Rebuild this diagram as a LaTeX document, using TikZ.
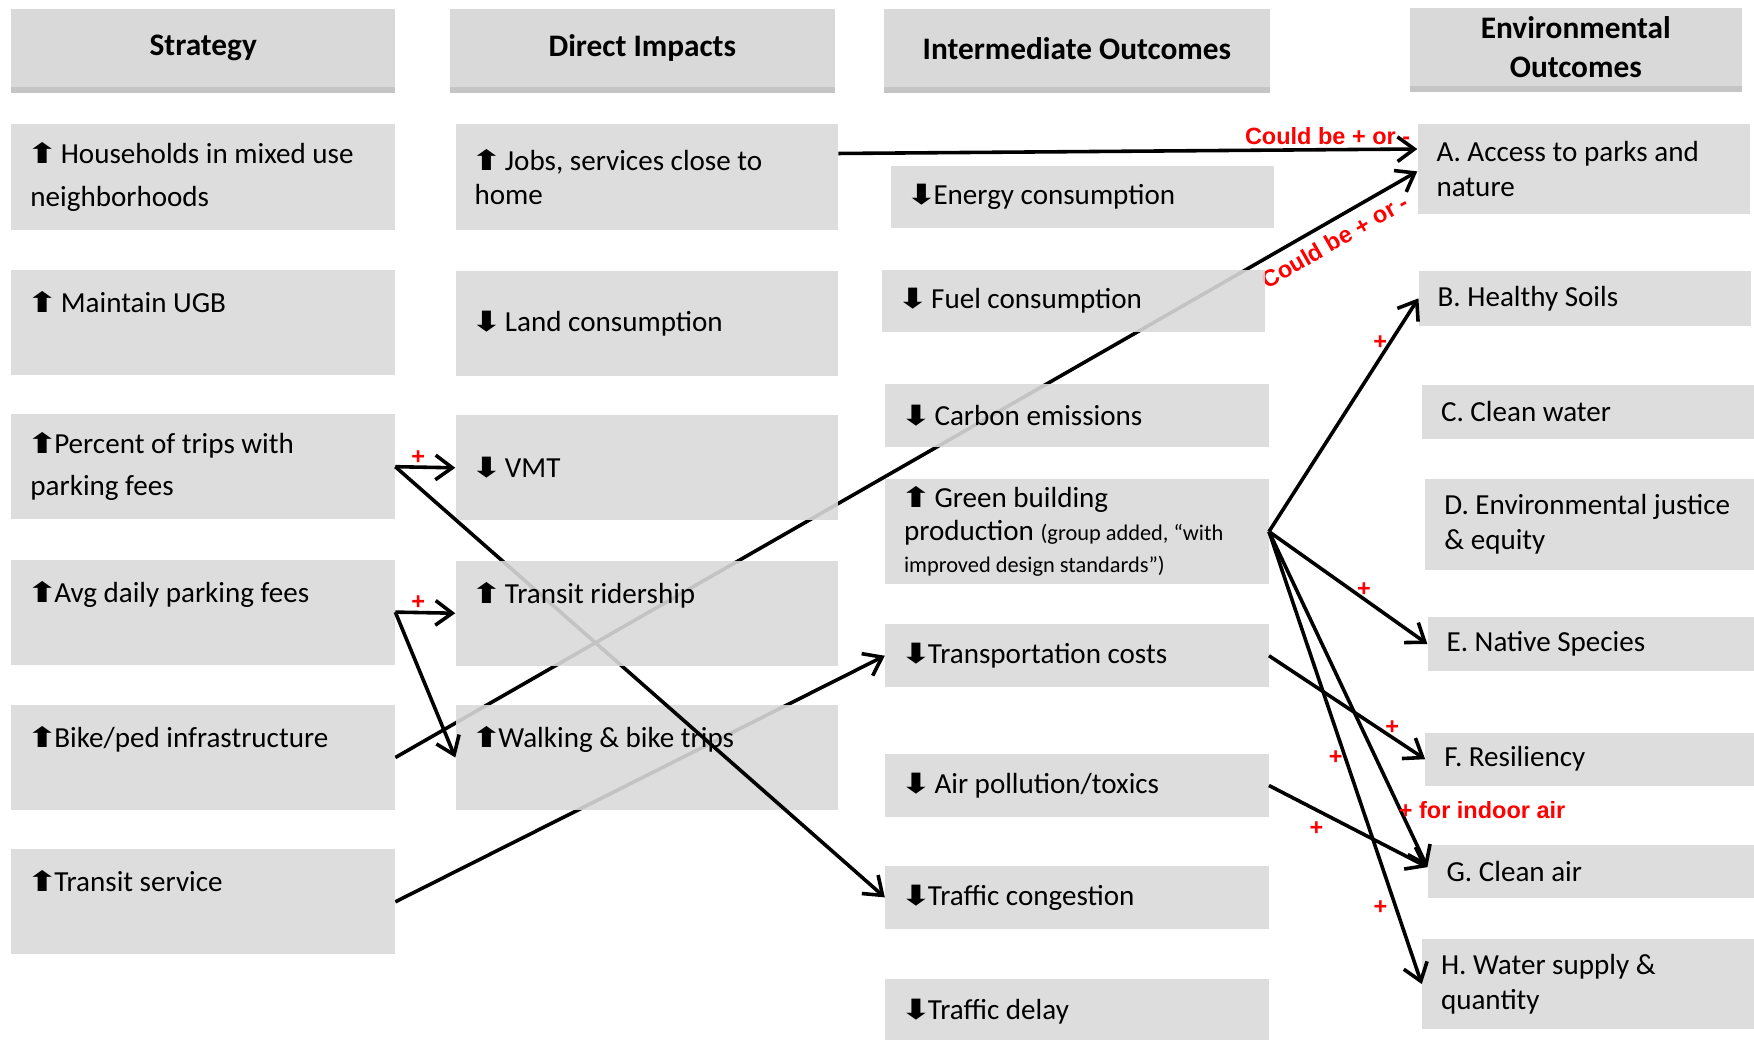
\documentclass[tikz,border=0pt]{standalone}
\usepackage{fontspec}
\setmainfont{Carlito}
\newfontfamily\labfont{Liberation Sans}
\newfontfamily\arrfont{DejaVu Sans}
\usetikzlibrary{arrows.meta,shadows}

\definecolor{boxgray}{RGB}{217,217,217}
\newcommand\uparr{{\arrfont\fontsize{25}{25}\selectfont\kern-4pt\scalebox{1.4}[1]{⬆}\kern-4pt}}
\newcommand\dnarr{{\arrfont\fontsize{25}{25}\selectfont\kern-4pt\scalebox{1.4}[1]{⬇}\kern-4pt}}

\pgfdeclarelayer{back}
\pgfsetlayers{back,main}

\begin{document}
\begin{tikzpicture}[x=1pt,y=-1pt,
  hdr/.style={anchor=north west, fill=boxgray, minimum height=70pt, inner sep=0pt,
    align=center, font=\bfseries\fontsize{28}{35}\selectfont,
    drop shadow={shadow xshift=0pt, shadow yshift=-5pt, fill=gray!90, opacity=0.5}},
  box/.style={anchor=north west, fill=boxgray, fill opacity=0.9, text opacity=1,
    inner xsep=17pt, inner ysep=0pt, align=flush left, font=\fontsize{26}{31}\selectfont},
  col1/.style={box, text width=309pt, minimum height=94pt},
  col2/.style={box, text width=308pt, minimum height=94pt},
  col3/.style={box, text width=309pt, minimum height=56pt},
  col4/.style={box, text width=263pt},
  topbox/.style={text height=38pt, text depth=56pt},
  conn/.style={line width=3.2pt, -{Straight Barb[length=15pt,width=22pt]}},
  sign/.style={text=red, inner sep=1pt, font=\labfont\bfseries\fontsize{21}{21}\selectfont}]

  \useasboundingbox (0,0) rectangle (1568,929);

  % column headers
  \node[hdr, minimum width=343pt] (hStrat) at (10,8) {Strategy};
  \node[hdr, minimum width=344pt] (hDirect) at (402,8) {Direct Impacts};
  \node[hdr, minimum width=345pt] (hInter) at (790,8) {Intermediate Outcomes};
  \node[hdr, minimum width=297pt] (hEnv) at (1260,7) {Environmental\\Outcomes};

  % strategy
  \node[col1] (strHouse) at (10,111) {\uparr\ Households in mixed use\\[7pt]neighborhoods};
  \node[col1, topbox] (strUGB) at (10,241) {\uparr\ Maintain UGB};
  \node[col1] (strPark) at (10,370) {\uparr Percent of trips with\\[7pt]parking fees};
  \node[col1, topbox] (strFees) at (10,500) {\uparr Avg daily parking fees};
  \node[col1, topbox] (strBike) at (10,630) {\uparr Bike/ped infrastructure};
  \node[col1, topbox] (strTransit) at (10,759) {\uparr Transit service};

  % direct impacts (ridership comes later)
  \node[col2] (diJobs) at (407,111) {\uparr\ Jobs, services close to\\home};
  \node[col2] (diLand) at (407,242) {\dnarr\ Land consumption};
  \node[col2] (diVMT) at (407,371) {\dnarr\ VMT};
  \node[col2, topbox] (diWalk) at (407,630) {\uparr Walking \& bike trips};

  % intermediate outcomes
  \node[col3] (ioEnergy) at (796,148) {\dnarr Energy consumption};
  \node[col3] (ioFuel) at (788,241) {\dnarr\ Fuel consumption};
  \node[col3] (ioCarbon) at (791,343) {\dnarr\ Carbon emissions};
  \node[col3, minimum height=94pt, font=\fontsize{26}{29}\selectfont] (ioGreen) at (791,428)
    {\uparr\ Green building\\production {\fontsize{20}{29}\selectfont(group added, “with}\\{\fontsize{20}{29}\selectfont improved design standards”)}};
  \node[col3] (ioCost) at (791,558) {\dnarr Transportation costs};
  \node[col3] (ioAir) at (791,674) {\dnarr\ Air pollution/toxics};
  \node[col3] (ioCongest) at (791,774) {\dnarr Traffic congestion};
  \node[col3, minimum height=58pt] (ioDelay) at (791,875) {\dnarr Traffic delay};

  % environmental outcomes
  \node[col4, minimum height=80pt] (envA) at (1267,111) {A. Access to parks and\\nature};
  \node[col4, minimum height=49pt] (envB) at (1268,242) {B. Healthy Soils};
  \node[col4, minimum height=48pt] (envC) at (1271,344) {C. Clean water};
  \node[col4, minimum height=81pt] (envD) at (1274,428) {D. Environmental justice\\\& equity};
  \node[col4, minimum height=49pt] (envE) at (1276,551) {E. Native Species};
  \node[col4, minimum height=47pt] (envF) at (1274,655) {F. Resiliency};
  \node[col4, minimum height=48pt] (envG) at (1276,755) {G. Clean air};
  \node[col4, minimum height=81pt] (envH) at (1271,839) {H. Water supply \&\\quantity};

  % runs over walking box, under ridership box
  \draw[conn] (strPark.east) -- (ioCongest.west);
  \node[col2, topbox] (diRider) at (407,501) {\uparr\ Transit ridership};

  % lines seen through the boxes
  \begin{pgfonlayer}{back}
    \draw[conn] (strBike.east) -- ([yshift=-2pt]envA.west)
      node[sign, sloped, below=7pt, pos=0.91] {Could be + or -};
    \draw[conn] (strTransit.east) -- (ioCost.west);
  \end{pgfonlayer}

  \draw[conn] ([yshift=21pt]diJobs.east) -- ([yshift=18pt]envA.west)
    node[sign, above=2pt, pos=0.845] {Could be + or -};
  \draw[conn] (strPark.east) -- (diVMT.west) node[sign, above, pos=0.38] {+};
  \draw[conn] (strFees.east) -- (diRider.west) node[sign, above, pos=0.38] {+};
  \draw[conn] (strFees.east) -- (diWalk.west);

  \draw[conn] (ioGreen.east) -- (envB.west) node[sign, left, pos=0.81] {+};
  \draw[conn] (ioGreen.east) -- (envE.west) node[sign, above, pos=0.6] {+};
  \draw[conn] (ioGreen.east) -- ([yshift=4pt]envG.west)
    node[sign, right, pos=0.83, xshift=-4pt] {+ for indoor air};
  \draw[conn] (ioGreen.east) -- (envH.west)
    node[sign, left, pos=0.5] {+} node[sign, left, pos=0.83, xshift=-5pt] {+};
  \draw[conn] (ioCost.east) -- (envF.west) node[sign, above, pos=0.79] {+};
  \draw[conn] (ioAir.east) -- ([yshift=4pt]envG.west) node[sign, below=8pt, pos=0.3] {+};
\end{tikzpicture}
\end{document}
